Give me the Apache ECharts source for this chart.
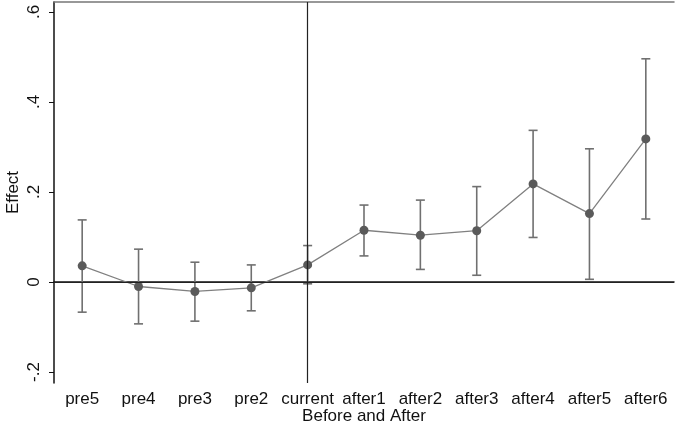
<!DOCTYPE html>
<html>
<head>
<meta charset="utf-8" />
<title>effect</title>
<script src="https://cdn.jsdelivr.net/npm/echarts@6/dist/echarts.min.js"></script>
<style>
  html, body { margin: 0; padding: 0; background: #fff; }
</style>
</head>
<body>
<div id="chart" style="width:675px;height:428px;"></div>
<script type="text/javascript">
// data
var periods = ['pre5', 'pre4', 'pre3', 'pre2', 'current', 'after1', 'after2', 'after3', 'after4', 'after5', 'after6'];
var effect  = [0.036, -0.010, -0.021, -0.013, 0.038, 0.115, 0.104, 0.114, 0.218, 0.152, 0.318];
var ciLow   = [-0.067, -0.093, -0.087, -0.064, -0.004, 0.058, 0.028, 0.015, 0.099, 0.006, 0.140];
var ciHigh  = [0.138, 0.073, 0.044, 0.038, 0.081, 0.171, 0.182, 0.212, 0.337, 0.296, 0.496];
var yTicks  = [-0.2, 0, 0.2, 0.4, 0.6];

var font = '"Liberation Sans", Arial, sans-serif';

// stata style numbers: .6, -.2, 0
function stataNum(v) {
  if (Math.abs(v) < 1e-9) return '0';
  var s = String(Math.round(Math.abs(v) * 10) / 10).replace(/^0/, '');
  return (v < 0 ? '-' : '') + s;
}

var ciData = [];
for (var i = 0; i < periods.length; i++) {
  ciData.push([i, ciLow[i], ciHigh[i]]);
}

var myChart = echarts.init(document.getElementById('chart'));

var option = {
  animation: false,
  backgroundColor: '#fff',
  grid: { left: 54, right: 1, top: 2, bottom: 45, outerBoundsMode: 'none', containLabel: false },
  xAxis: [
    {
      type: 'category',
      data: periods,
      name: 'Before and After',
      nameLocation: 'middle',
      nameGap: 25,
      nameMoveOverlap: false,
      nameTextStyle: { fontFamily: font, fontSize: 17, color: '#111' },
      axisLine: { lineStyle: { color: '#111', width: 1.5 } },
      axisTick: { alignWithLabel: true, length: 5, lineStyle: { color: '#111' } },
      axisLabel: { fontFamily: font, fontSize: 17, color: '#111', margin: 8, interval: 0 },
      splitLine: { show: false }
    },
    {
      type: 'category',
      position: 'top',
      data: periods,
      axisLine: { lineStyle: { color: '#777', width: 1.5 } },
      axisTick: { show: false },
      axisLabel: { show: false }
    }
  ],
  yAxis: {
    type: 'value',
    min: -0.2244,
    max: 0.6222,
    name: 'Effect',
    nameLocation: 'middle',
    nameGap: 32,
    nameMoveOverlap: false,
    nameTextStyle: { fontFamily: font, fontSize: 17, color: '#111' },
    axisLine: { show: true, lineStyle: { color: '#111', width: 1.5 } },
    axisTick: { show: true, length: 5, customValues: yTicks, lineStyle: { color: '#111' } },
    axisLabel: {
      customValues: yTicks,
      rotate: 90,
      margin: 11,
      fontFamily: font,
      fontSize: 17,
      color: '#111',
      formatter: stataNum
    },
    splitLine: { show: false }
  },
  series: [
    {
      // confidence intervals with caps
      type: 'custom',
      data: ciData,
      renderItem: function (params, api) {
        var x = api.value(0);
        var lo = api.coord([x, api.value(1)]);
        var hi = api.coord([x, api.value(2)]);
        var w = 4.5;
        var st = { stroke: '#707070', lineWidth: 1.6 };
        return {
          type: 'group',
          children: [
            { type: 'line', shape: { x1: lo[0], y1: lo[1], x2: hi[0], y2: hi[1] }, style: st },
            { type: 'line', shape: { x1: lo[0] - w, y1: lo[1], x2: lo[0] + w, y2: lo[1] }, style: st },
            { type: 'line', shape: { x1: hi[0] - w, y1: hi[1], x2: hi[0] + w, y2: hi[1] }, style: st }
          ]
        };
      },
      z: 2
    },
    {
      type: 'line',
      data: effect,
      symbol: 'circle',
      symbolSize: 9,
      itemStyle: { color: '#5a5a5a' },
      lineStyle: { color: '#808080', width: 1.3 },
      z: 3,
      markLine: {
        silent: true,
        symbol: 'none',
        label: { show: false },
        lineStyle: { color: '#222', width: 1.2, type: 'solid' },
        data: [
          { xAxis: 'current' },
          { yAxis: 0 }
        ]
      }
    }
  ]
};

myChart.setOption(option);
</script>
</body>
</html>
